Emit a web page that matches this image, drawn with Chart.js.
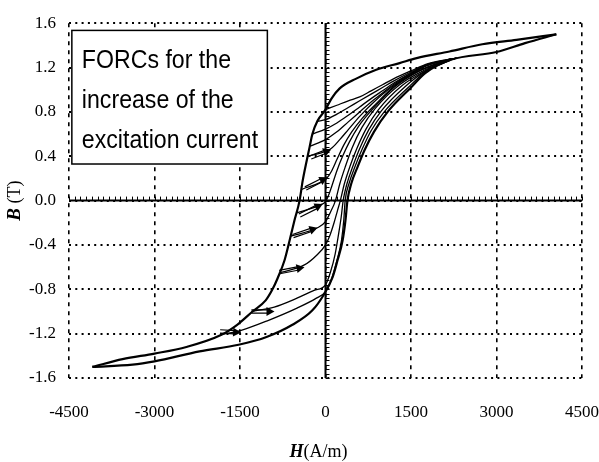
<!DOCTYPE html>
<html>
<head>
<meta charset="utf-8">
<script src="https://cdn.jsdelivr.net/npm/chart.js@4.4.1/dist/chart.umd.min.js"></script>
<style>
    html, body { margin: 0; padding: 0; background: #fff; }
    canvas { display: block; }
</style>
</head>
<body>
<canvas id="forc-chart" width="599" height="462"></canvas>
<script>
// Hysteresis loop B(H) with first order reversal curves (FORCs)

// Axis ticks
const xTicks = [-4500, -3000, -1500, 0, 1500, 3000, 4500];
const yTicks = [-1.6, -1.2, -0.8, -0.4, 0.0, 0.4, 0.8, 1.2, 1.6];

// Major loop, descending (upper) branch
const descH = [-4090, -3560, -3000, -2440, -1825, -1550, -1280, -1050, -930, -840, -720, -630, -545, -455, -400, -330, -280, -230, -140, 0, 105, 245, 540, 890, 1300, 1600, 2175, 2750, 3350, 4050];
const descB = [-1.50, -1.43, -1.38, -1.32, -1.21, -1.12, -1.00, -0.90, -0.80, -0.70, -0.54, -0.36, -0.18, 0.00, 0.18, 0.36, 0.48, 0.60, 0.72, 0.82, 0.92, 1.01, 1.10, 1.18, 1.24, 1.285, 1.345, 1.41, 1.45, 1.50];

// Major loop, ascending (lower) branch
const ascH = [-4090, -3385, -3000, -2210, -1525, -1035, -580, -230, -20, 125, 210, 300, 350, 385, 450, 560, 680, 850, 1090, 1500, 1750, 2200, 3000, 3500, 4050];
const ascB = [-1.50, -1.48, -1.45, -1.36, -1.30, -1.23, -1.12, -0.99, -0.84, -0.69, -0.54, -0.36, -0.18, 0.00, 0.15, 0.30, 0.45, 0.62, 0.80, 1.02, 1.15, 1.27, 1.34, 1.42, 1.50];

// FORCs, one list per reversal point (lowest reversal first)
const forcH = [
    [-1850, -1480, -1000, -500, -160, 0, 110, 200, 280, 320, 345, 410, 520, 640, 800, 1030, 1450, 1750, 2200],
    [-1300, -900, -500, -200, 0, 90, 170, 230, 275, 310, 375, 480, 600, 760, 980, 1400, 1750, 2200],
    [-800, -370, -150, 0, 80, 150, 210, 260, 330, 430, 550, 710, 930, 1350, 1750, 2200],
    [-610, -140, 0, 90, 175, 250, 350, 470, 640, 870, 1300, 1750, 2200],
    [-510, -50, 0, 40, 110, 200, 300, 420, 580, 800, 1200, 1650, 2200],
    [-420, 35, 100, 200, 320, 460, 640, 880, 1200, 1600, 2200],
    [-310, 100, 250, 400, 600, 850, 1150, 1550, 2000, 2300],
    [-270, 0, 200, 400, 600, 800, 1000, 1200, 1500, 1800, 2300],
    [-230, 0, 200, 400, 600, 800, 1000, 1200, 1500, 1800, 2300],
    [-140, 0, 200, 400, 600, 800, 1000, 1200, 1500, 1800, 2300],
    [0, 200, 400, 600, 800, 1000, 1200, 1500, 1800, 2300]
];
const forcB = [
    [-1.21, -1.17, -1.08, -0.97, -0.88, -0.82, -0.70, -0.54, -0.36, -0.18, 0.00, 0.15, 0.31, 0.46, 0.63, 0.80, 1.02, 1.16, 1.27],
    [-1.00, -0.96, -0.88, -0.81, -0.76, -0.64, -0.48, -0.30, -0.15, 0.00, 0.15, 0.31, 0.47, 0.64, 0.81, 1.03, 1.165, 1.27],
    [-0.65, -0.58, -0.49, -0.40, -0.31, -0.20, -0.09, 0.00, 0.15, 0.31, 0.47, 0.645, 0.82, 1.04, 1.17, 1.275],
    [-0.32, -0.245, -0.19, -0.10, 0.00, 0.15, 0.31, 0.48, 0.66, 0.83, 1.045, 1.18, 1.275],
    [-0.11, -0.03, -0.01, 0.03, 0.13, 0.27, 0.40, 0.53, 0.67, 0.81, 1.02, 1.17, 1.28],
    [0.10, 0.21, 0.26, 0.37, 0.50, 0.62, 0.74, 0.87, 1.03, 1.16, 1.28],
    [0.40, 0.47, 0.55, 0.64, 0.76, 0.89, 1.02, 1.15, 1.24, 1.285],
    [0.49, 0.55, 0.62, 0.71, 0.80, 0.89, 0.97, 1.05, 1.145, 1.22, 1.285],
    [0.60, 0.645, 0.70, 0.77, 0.845, 0.92, 0.99, 1.06, 1.15, 1.225, 1.285],
    [0.715, 0.73, 0.78, 0.84, 0.90, 0.96, 1.02, 1.08, 1.16, 1.23, 1.285],
    [0.82, 0.86, 0.90, 0.935, 0.99, 1.045, 1.10, 1.17, 1.235, 1.285]
];

// Direction arrows drawn beside the FORCs
const arrowFromH = [-1850, -1300, -807, -570, -455, -350, -260];
const arrowFromB = [-1.18, -1.00, -0.645, -0.32, -0.135, 0.11, 0.39];
const arrowToH = [-1480, -895, -368, -140, -50, 35, 100];
const arrowToB = [-1.19, -1.00, -0.60, -0.245, -0.03, 0.21, 0.46];

// Annotation box (data coordinates of its corners) and its text
const noteH = [-4450, -1020];
const noteB = [1.535, 0.33];
const noteLines = ['FORCs for the', 'increase of the', 'excitation current'];

const SERIF = '"Liberation Serif", "Times New Roman", serif';
const SANS = '"Liberation Sans", Arial, sans-serif';

function toPoints(hs, bs) {
    return hs.map((h, i) => ({ x: h, y: bs[i] }));
}

function lineDataset(hs, bs, width) {
    return {
        data: toPoints(hs, bs),
        showLine: true,
        borderColor: '#000',
        borderWidth: width,
        pointRadius: 0,
        fill: false,
        cubicInterpolationMode: 'monotone'
    };
}

const datasets = [
    lineDataset(descH, descB, 2.2),
    lineDataset(ascH, ascB, 2.2)
];
forcH.forEach((hs, i) => datasets.push(lineDataset(hs, forcB[i], 1.3)));

function drawArrow(ctx, x1, y1, x2, y2) {
    const ang = Math.atan2(y2 - y1, x2 - x1);
    const len = Math.hypot(x2 - x1, y2 - y1);
    ctx.save();
    ctx.translate(x1, y1);
    ctx.rotate(ang);
    ctx.strokeStyle = '#000';
    ctx.fillStyle = '#000';
    ctx.lineWidth = 1.2;
    ctx.beginPath();
    ctx.moveTo(0, -1.7);
    ctx.lineTo(len - 6, -1.7);
    ctx.moveTo(0, 1.7);
    ctx.lineTo(len - 6, 1.7);
    ctx.stroke();
    ctx.beginPath();
    ctx.moveTo(len, 0);
    ctx.lineTo(len - 8, -4.5);
    ctx.lineTo(len - 8, 4.5);
    ctx.closePath();
    ctx.fill();
    ctx.restore();
}

function drawMixed(ctx, parts, cx, cy) {
    let total = 0;
    parts.forEach(p => { ctx.font = p[1]; total += ctx.measureText(p[0]).width; });
    let x = cx - total / 2;
    ctx.textAlign = 'left';
    parts.forEach(p => {
        ctx.font = p[1];
        ctx.fillText(p[0], x, cy);
        x += ctx.measureText(p[0]).width;
    });
}

// Solid zero axes with minor tick marks
const zeroAxes = {
    id: 'zeroAxes',
    beforeDatasetsDraw(chart) {
        const { ctx, chartArea: a, scales: { x, y } } = chart;
        const x0 = x.getPixelForValue(0);
        const y0 = y.getPixelForValue(0);
        ctx.save();
        ctx.strokeStyle = '#000';
        ctx.lineWidth = 2;
        ctx.beginPath();
        ctx.moveTo(a.left, y0);
        ctx.lineTo(a.right, y0);
        ctx.moveTo(x0, a.top);
        ctx.lineTo(x0, a.bottom);
        ctx.stroke();
        ctx.lineWidth = 1;
        ctx.beginPath();
        for (let h = -4500; h <= 4500; h += 100) {
            const px = Math.round(x.getPixelForValue(h)) + 0.5;
            ctx.moveTo(px, y0);
            ctx.lineTo(px, y0 - 4);
        }
        for (let k = -40; k <= 40; k++) {
            const py = Math.round(y.getPixelForValue(k * 0.04)) + 0.5;
            ctx.moveTo(x0, py);
            ctx.lineTo(x0 + 4, py);
        }
        ctx.stroke();
        ctx.restore();
    }
};

// Arrows, annotation box and axis titles
const annotations = {
    id: 'annotations',
    afterDatasetsDraw(chart) {
        const { ctx, scales: { x, y } } = chart;
        arrowFromH.forEach((h, i) => {
            drawArrow(ctx,
                x.getPixelForValue(h), y.getPixelForValue(arrowFromB[i]),
                x.getPixelForValue(arrowToH[i]), y.getPixelForValue(arrowToB[i]));
        });

        // note box
        const bx1 = x.getPixelForValue(noteH[0]);
        const bx2 = x.getPixelForValue(noteH[1]);
        const by1 = y.getPixelForValue(noteB[0]);
        const by2 = y.getPixelForValue(noteB[1]);
        ctx.save();
        ctx.fillStyle = '#fff';
        ctx.fillRect(bx1, by1, bx2 - bx1, by2 - by1);
        ctx.strokeStyle = '#000';
        ctx.lineWidth = 1.5;
        ctx.strokeRect(bx1, by1, bx2 - bx1, by2 - by1);
        ctx.fillStyle = '#000';
        ctx.textAlign = 'left';
        ctx.textBaseline = 'alphabetic';
        ctx.font = '26px ' + SANS;
        noteLines.forEach((line, i) => {
            ctx.save();
            ctx.translate(bx1 + 10, by1 + 38 + i * 40);
            ctx.scale(0.89, 1);
            ctx.fillText(line, 0, 0);
            ctx.restore();
        });
        ctx.restore();
    },
    afterDraw(chart) {
        const { ctx, chartArea: a } = chart;
        ctx.save();
        ctx.fillStyle = '#000';
        ctx.textBaseline = 'middle';
        drawMixed(ctx, [['H', 'italic bold 18px ' + SERIF], ['(A/m)', '18px ' + SERIF]],
            (a.left + a.right) / 2 - 7, 452);
        ctx.translate(15, (a.top + a.bottom) / 2);
        ctx.rotate(-Math.PI / 2);
        drawMixed(ctx, [['B', 'italic bold 19px ' + SERIF], [' (T)', '18px ' + SERIF]], 0, 0);
        ctx.restore();
    }
};

const ctx = document.getElementById('forc-chart').getContext('2d');
const chart = new Chart(ctx, {
    type: 'scatter',
    data: { datasets: datasets },
    options: {
        responsive: false,
        animation: false,
        layout: { padding: { top: 21, right: 0, bottom: 0, left: 0 } },
        plugins: {
            legend: { display: false },
            tooltip: { enabled: false }
        },
        scales: {
            x: {
                type: 'linear',
                min: -4500,
                max: 4500,
                afterBuildTicks: scale => { scale.ticks = xTicks.map(v => ({ value: v })); },
                afterFit: scale => { scale.height = 84; },
                ticks: {
                    color: '#000',
                    font: { family: SERIF, size: 17 },
                    padding: 0,
                    maxRotation: 0,
                    autoSkip: false,
                    callback: v => String(v)
                },
                // invisible tick marks push the labels down without widening the side padding
                grid: { color: '#000', lineWidth: 1.6, drawTicks: true, tickLength: 24, tickColor: 'rgba(0,0,0,0)' },
                border: { display: false, dash: [4, 5] }
            },
            y: {
                type: 'linear',
                min: -1.6,
                max: 1.6,
                afterBuildTicks: scale => { scale.ticks = yTicks.map(v => ({ value: v })); },
                afterFit: scale => { scale.width = 69; },
                ticks: {
                    color: '#000',
                    font: { family: SERIF, size: 17 },
                    padding: 13,
                    autoSkip: false,
                    callback: v => (Math.abs(v) < 1e-9 ? '0.0' : v.toFixed(1))
                },
                grid: { color: '#000', lineWidth: 2, drawTicks: false },
                border: { display: false, dash: [2, 4.3] }
            }
        }
    },
    plugins: [zeroAxes, annotations]
});
</script>
</body>
</html>
